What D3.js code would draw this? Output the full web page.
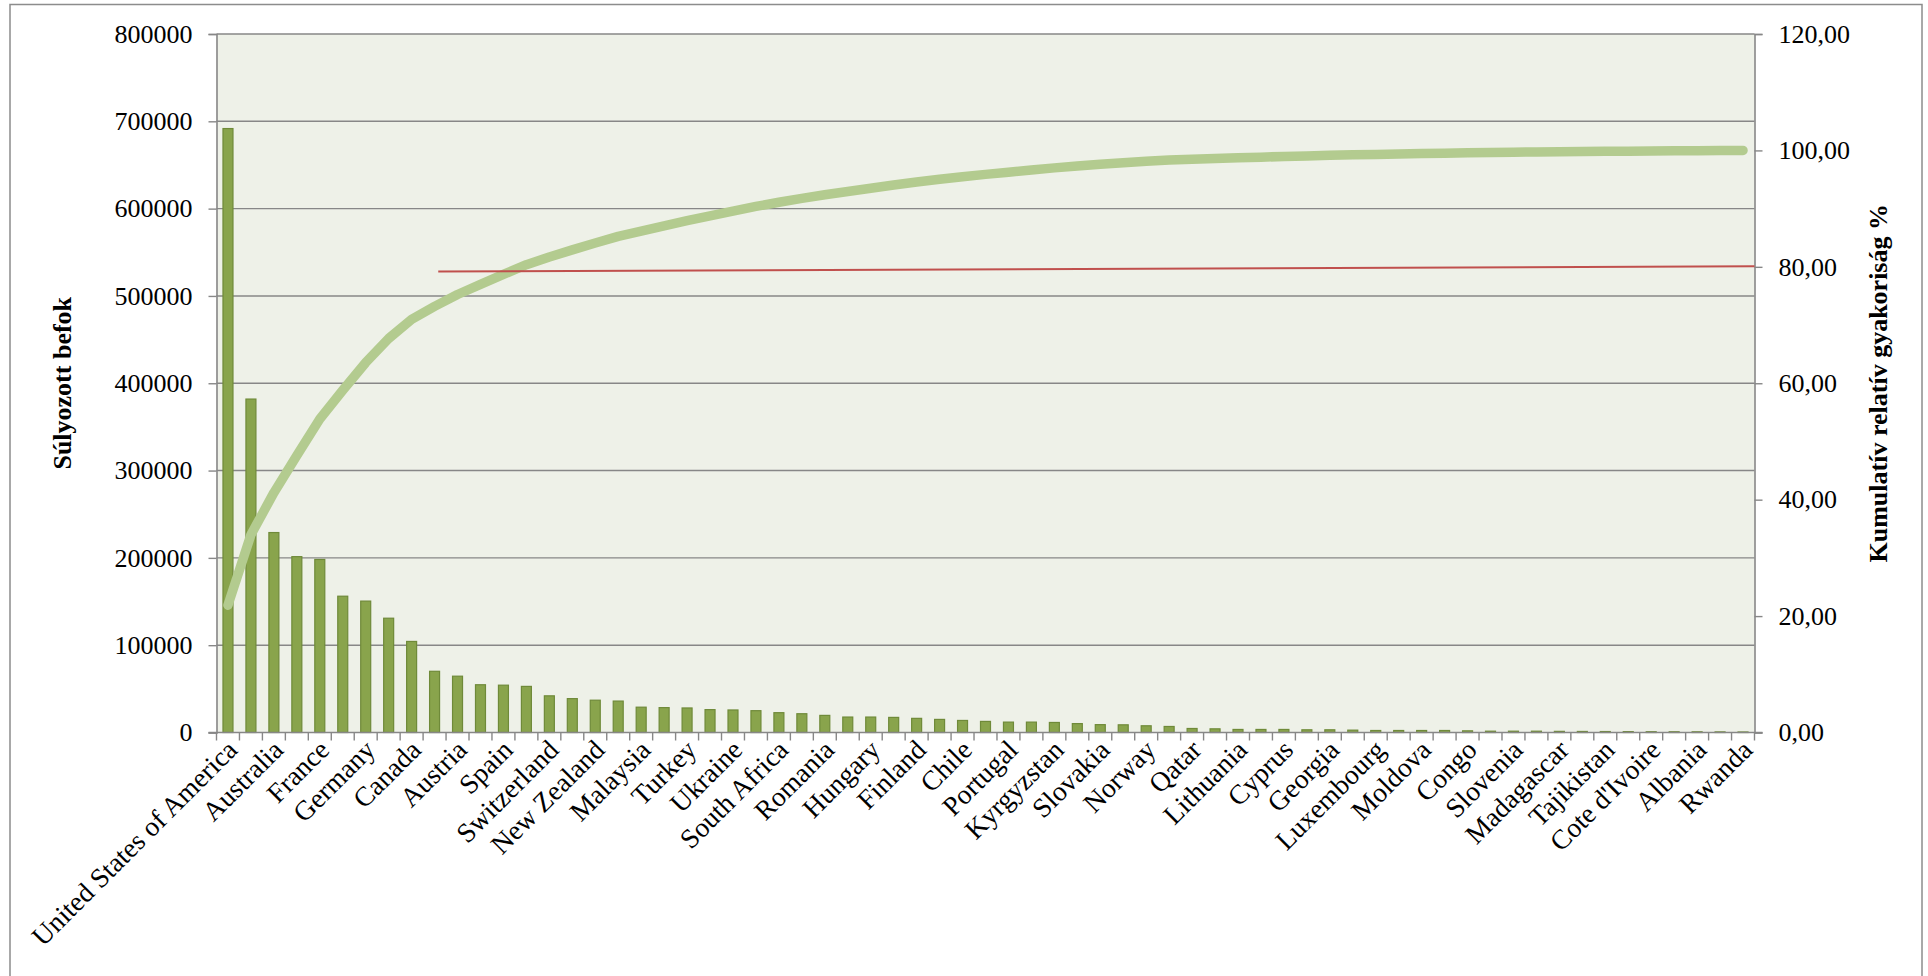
<!DOCTYPE html>
<html>
<head>
<meta charset="utf-8">
<script src="https://cdn.jsdelivr.net/npm/d3@7/dist/d3.min.js"></script>
<style>
  html, body { margin: 0; padding: 0; background: #ffffff; }
  svg { display: block; }
  text { font-family: "Liberation Serif", "Times New Roman", serif; fill: #000; }
</style>
</head>
<body>
<svg id="chart" width="1928" height="976"></svg>
<script>
// Countries ranked by weighted in-degree (Pareto order)
const countries = [
  "United States of America", "China", "Australia", "Italy", "France", "United Kingdom",
  "Germany", "Japan", "Canada", "Netherlands", "Austria", "Brazil", "Spain", "Belgium",
  "Switzerland", "Russia", "New Zealand", "Argentina", "Malaysia", "India", "Turkey",
  "Poland", "Ukraine", "Sweden", "South Africa", "Denmark", "Romania", "Czech Republic",
  "Hungary", "Israel", "Finland", "Greece", "Chile", "Mexico", "Portugal", "Kazakhstan",
  "Kyrgyzstan", "Bulgaria", "Slovakia", "Ireland", "Norway", "Croatia", "Qatar", "Latvia",
  "Lithuania", "Estonia", "Cyprus", "Serbia", "Georgia", "Armenia", "Luxembourg", "Belarus",
  "Moldova", "Uzbekistan", "Congo", "Cameroon", "Slovenia", "Iceland", "Madagascar",
  "Mongolia", "Tajikistan", "Azerbaijan", "Cote d'Ivoire", "Senegal", "Albania", "Macedonia",
  "Rwanda"
];

// Weighted in-degree per country
const weightedDegree = [
  691700, 381900, 229000, 201400, 198200, 156100, 150500, 130900, 104300, 70100,
  64500, 54700, 54200, 52800, 42000, 38800, 37000, 36000, 29000, 28500,
  28100, 26200, 25800, 25000, 22700, 21500, 19600, 17700, 17700, 17300,
  16200, 15000, 13800, 12700, 11900, 11900, 11500, 10200, 9000, 8800,
  7700, 6900, 4600, 4200, 3500, 3500, 3500, 3100, 3100, 2700,
  2300, 2300, 2300, 2300, 1900, 1500, 1500, 1500, 1300, 1200,
  1100, 1000, 900, 850, 800, 700, 600
];

// Axis ticks
const leftTicks = [0, 100000, 200000, 300000, 400000, 500000, 600000, 700000, 800000];
const rightTicks = [0, 20, 40, 60, 80, 100, 120];

// 80 % reference line, given in category-position units and percent
const refLinePos = [9.66, 67];
const refLinePct = [79.2, 80.1];

const titleLeft = "Súlyozott befok";
const titleRight = "Kumulatív relatív gyakoriság %";

// ---- layout ----
const plot = { left: 216.5, right: 1754.5, top: 34, bottom: 732.5 };
const svg = d3.select("#chart");

const x = d3.scaleBand().domain(countries).range([plot.left, plot.right]).padding(0);
const xPos = d3.scaleLinear().domain([0, countries.length]).range([plot.left, plot.right]);
const y = d3.scaleLinear().domain([0, 800000]).range([plot.bottom, plot.top]);
const y2 = d3.scaleLinear().domain([0, 120]).range([plot.bottom, plot.top]);

// cumulative relative frequency in percent
const total = d3.sum(weightedDegree);
const cumPct = d3.cumsum(weightedDegree).map(v => v / total * 100);

// outer frame (bottom edge runs past the page)
svg.append("rect")
  .attr("x", 10).attr("y", 4.5)
  .attr("width", 1912).attr("height", 985)
  .attr("fill", "#fff").attr("stroke", "#8c8c8c").attr("stroke-width", 1.5);

// plot background
svg.append("rect")
  .attr("x", plot.left).attr("y", plot.top)
  .attr("width", plot.right - plot.left).attr("height", plot.bottom - plot.top)
  .attr("fill", "#eef1e8");

// gridlines
svg.append("g").selectAll("line")
  .data(leftTicks.filter(d => d > 0))
  .join("line")
  .attr("x1", plot.left).attr("x2", plot.right)
  .attr("y1", d => y(d)).attr("y2", d => y(d))
  .attr("stroke", "#878787").attr("stroke-width", 1.4);

// bars
const barW = x.bandwidth() * 0.435;
svg.append("g").selectAll("rect")
  .data(weightedDegree)
  .join("rect")
  .attr("x", (d, i) => x(countries[i]) + x.bandwidth() / 2 - barW / 2)
  .attr("y", d => y(d))
  .attr("width", barW)
  .attr("height", d => plot.bottom - y(d))
  .attr("fill", "#89a44c")
  .attr("stroke", "#6f8a39")
  .attr("stroke-width", 1.2);

// left axis
const axL = svg.append("g")
  .attr("transform", `translate(${plot.left},0)`)
  .call(d3.axisLeft(y).tickValues(leftTicks).tickFormat(d3.format("d")).tickSize(8).tickPadding(16));
// right axis
const axR = svg.append("g")
  .attr("transform", `translate(${plot.right},0)`)
  .call(d3.axisRight(y2).tickValues(rightTicks)
    .tickFormat(d => d3.format(".2f")(d).replace(".", ",")).tickSize(8).tickPadding(16));

[axL, axR].forEach(ax => {
  ax.select(".domain").attr("stroke", "#878787").attr("stroke-width", 1.6);
  ax.selectAll(".tick line").attr("stroke", "#878787").attr("stroke-width", 1.4);
  ax.selectAll(".tick text")
    .style("font-family", '"Liberation Serif", "Times New Roman", serif')
    .style("font-size", "26px").attr("fill", "#000");
});

// bottom axis: line, boundary ticks, rotated labels on every other category
const axB = svg.append("g");
axB.append("line")
  .attr("x1", plot.left - 8).attr("x2", plot.right + 8)
  .attr("y1", plot.bottom).attr("y2", plot.bottom)
  .attr("stroke", "#878787").attr("stroke-width", 1.6);
axB.selectAll("line.tick")
  .data(d3.range(countries.length + 1))
  .join("line").attr("class", "tick")
  .attr("x1", d => xPos(d)).attr("x2", d => xPos(d))
  .attr("y1", plot.bottom).attr("y2", plot.bottom + 8)
  .attr("stroke", "#878787").attr("stroke-width", 1.4);
axB.selectAll("text")
  .data(countries.filter((c, i) => i % 2 === 0))
  .join("text")
  .attr("transform", d => `translate(${x(d) + x.bandwidth() / 2 + 11},${plot.bottom + 19}) rotate(-45)`)
  .attr("text-anchor", "end")
  .style("font-size", "27.5px")
  .text(d => d);

// cumulative line
const line = d3.line()
  .x((d, i) => x(countries[i]) + x.bandwidth() / 2)
  .y(d => y2(d));
svg.append("path")
  .datum(cumPct)
  .attr("d", line)
  .attr("fill", "none")
  .attr("stroke", "#b3cb8f")
  .attr("stroke-width", 9.5)
  .attr("stroke-linecap", "round")
  .attr("stroke-linejoin", "round");

// 80 % reference line
svg.append("line")
  .attr("x1", xPos(refLinePos[0])).attr("y1", y2(refLinePct[0]))
  .attr("x2", xPos(refLinePos[1])).attr("y2", y2(refLinePct[1]))
  .attr("stroke", "#c0504d").attr("stroke-width", 2);

// axis titles
svg.append("text")
  .attr("transform", `translate(62,${(plot.top + plot.bottom) / 2}) rotate(-90)`)
  .attr("text-anchor", "middle").attr("dominant-baseline", "central")
  .style("font-size", "26px").style("font-weight", "bold")
  .text(titleLeft);
svg.append("text")
  .attr("transform", `translate(1878,${(plot.top + plot.bottom) / 2}) rotate(-90)`)
  .attr("text-anchor", "middle").attr("dominant-baseline", "central")
  .style("font-size", "26px").style("font-weight", "bold")
  .text(titleRight);
</script>
</body>
</html>
